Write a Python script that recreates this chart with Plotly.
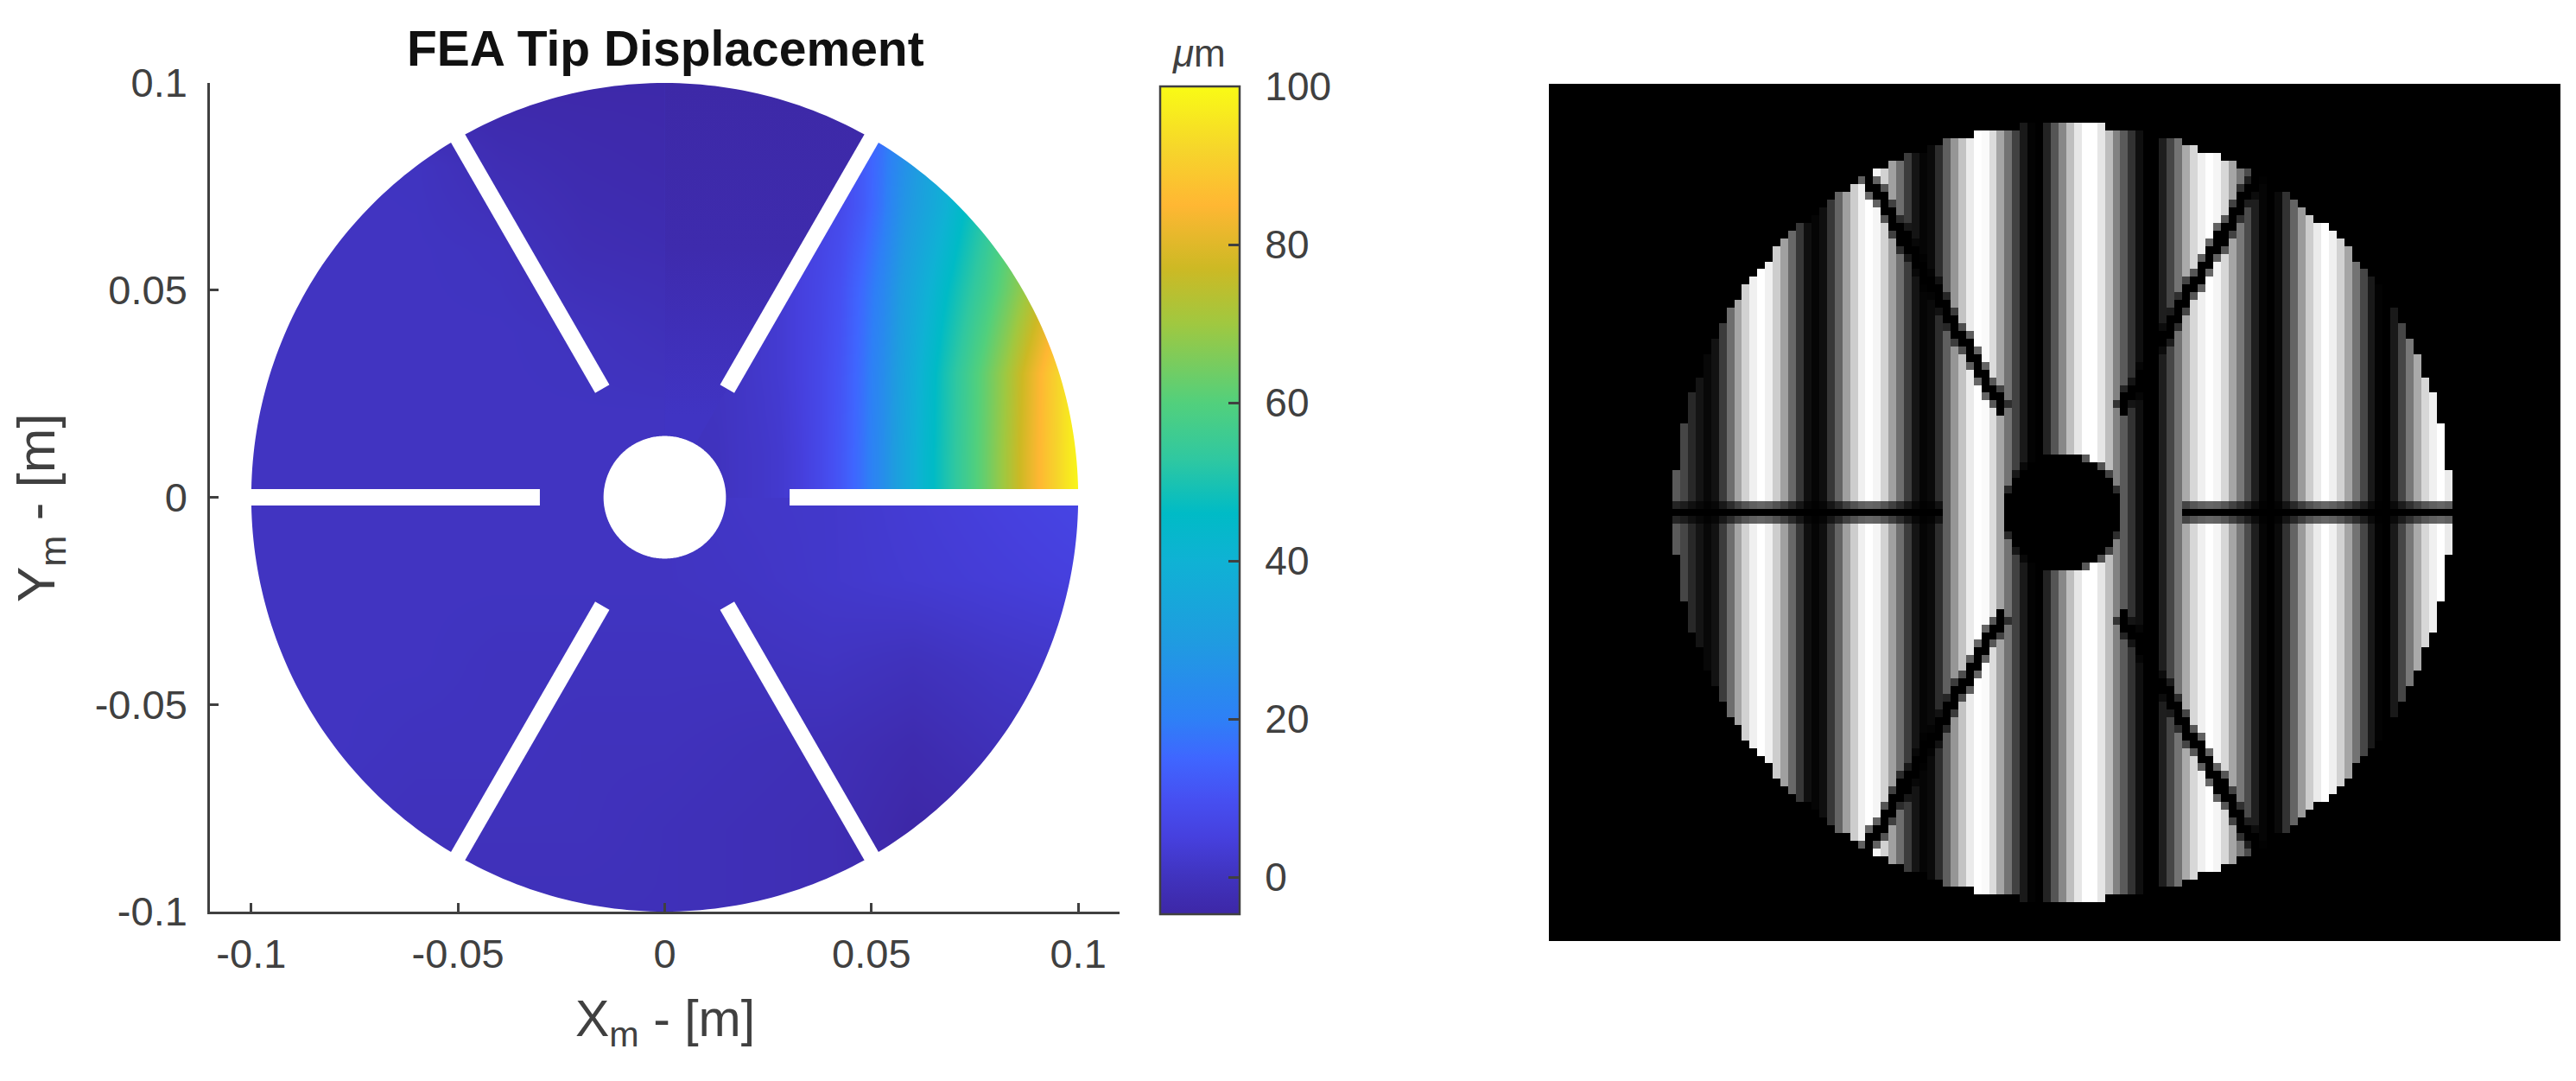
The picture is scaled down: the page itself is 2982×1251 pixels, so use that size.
import numpy as np
import plotly.graph_objects as go

# the page sits 8px in from the window edge
PAGE_PAD = 8
FIG_W, FIG_H = 2982 - 2 * PAGE_PAD, 1251 - 2 * PAGE_PAD
TEXT_COLOR = "#404040"
FONT = "Liberation Sans"

# colour bar (value in um -> colour)
scale_um = [-4.7, 0, 5, 10, 15, 20, 30, 40, 46, 53, 60, 70, 77, 85, 92, 100]
scale_colors = ["#3D27A6", "#4033BE", "#4640DE", "#4650F2", "#3F66FF", "#2E80F6", "#1F9CE0",
                "#0FB2D4", "#00BBC6", "#30C8A0", "#52D07C", "#A0C840", "#CDB924", "#FFB733",
                "#F6D52B", "#F9FB15"]
cbar_step = 20

# left panel ticks
axis_ticks = [-0.1, -0.05, 0, 0.05, 0.1]
axis_labels = ["-0.1", "-0.05", "0", "0.05", "0.1"]

# displacement of the pulled segment (um), cell edges in metres
seg_x_edges = [0.0, 0.005, 0.01, 0.015, 0.02, 0.025, 0.03, 0.035, 0.04, 0.045, 0.05, 0.055, 0.06,
               0.065, 0.07, 0.075, 0.08, 0.085, 0.09, 0.095, 0.1, 0.105]
seg_y_edges = [0.0, 0.02, 0.04, 0.06, 0.08, 0.1]
seg_um = [
    [0, 0, 0, 1, 1.5, 2.5, 4.5, 7.5, 11.5, 17, 24.5, 34, 42.5, 49.5, 56, 63, 71, 80, 88.5, 96, 102],
    [0, 0, 0.5, 1, 2, 3, 5, 7.5, 11, 16.5, 24, 33, 41.5, 49, 55.5, 62.5, 70, 79, 88, 96, 102],
    [0, 0, 0.5, 1, 2, 3, 5, 7, 10, 15.5, 22, 31, 38, 45, 51, 56.5, 63, 70, 78, 86, 94],
    [0, 0, 0.5, 1, 2, 3, 5, 6, 8, 12, 18, 27, 33, 39, 46, 52, 59, 66, 73, 80, 87],
    [0, 0, 0.5, 1, 2, 3, 5, 6, 8, 12, 17, 24, 31, 37, 43, 49, 56, 63, 70, 77, 84],
]

# the other five segments (um), cell centres in metres
disc_x = [-0.1, -0.08, -0.06, -0.04, -0.02, 0, 0.02, 0.04, 0.06, 0.08, 0.1]
disc_y = [-0.1, -0.08, -0.06, -0.04, -0.02, 0, 0.02, 0.04, 0.06, 0.08, 0.1]
disc_um = [
    [-1, -1, -1, -1, -1, -1, -1.5, -2, -3, -3, -3],
    [0, 0, -0.5, -0.5, -0.5, -1, -1.5, -2, -4.5, -3.5, -2],
    [0.5, 0.5, 0, 0, -0.5, -0.5, -1, -1.5, -3, -1, 0],
    [0.5, 0.5, 0.5, 0, 0, 0, 0, 0.5, -0.5, 1, 2],
    [0.5, 0.5, 0.5, 0.5, 0.5, 0.5, 1, 2, 3, 4, 5],
    [0.5, 0.5, 0.5, 0.5, 0.5, 0.5, 1.5, 2, 3.5, 5, 6.5],
    [0.5, 0.5, 0.5, 0.5, 0.5, 0.5, 0.5, 0.5, 0.5, 0.5, 0.5],
    [0.5, 0.5, 0.5, 0.5, 0, -1, -1, 0, 0, 0, 0],
    [0.5, 0.5, 0.5, 0, -2, -2.5, -3, 0, 0, 0, 0],
    [0.5, 0.5, 0.3, -2, -3, -3.5, -3.5, 0, 0, 0, 0],
    [-4, -4, -4, -4, -4, -4, -4, -4, -4, -4, -4],
]

# top segment right of x=0, same values as disc_um there (y fraction from y=0 up)
top_stops = [[0.0, "#4034C3"], [0.2, "#4034C3"], [0.4, "#3F2FB8"], [0.6, "#3E2BAD"], [1.0, "#3D29A7"]]

# mirror geometry, metres / degrees
slot_angles = [0, 60, 120, 180, 240, 300]
slot_inner = 0.0302
outer_radius = 0.1
hole_radius = 0.0148

# fringe image: grey level of each pixel column, from column 16 on
fringe_first_col = 16
fringe_levels = [
    90, 70, 40, 20, 8, 18, 60, 110, 165, 210, 240, 255, 240, 205, 160, 105, 55, 15, 5, 15,
    55, 100, 160, 205, 240, 255, 245, 210, 160, 110, 60, 20, 5, 10, 45, 95, 150, 195, 235, 255,
    250, 220, 165, 115, 65, 25, 3, 0, 35, 85, 135, 190, 230, 255, 255, 230, 190, 130, 90, 50,
    15, 0, 0, 30, 70, 115, 170, 215, 240, 255, 245, 215, 165, 120, 75, 30, 5, 0, 10, 50,
    100, 155, 205, 235, 255, 240, 210, 165, 115, 70, 25, 3, 0, 25, 70, 120, 170, 215, 240, 255, 235,
]
FRINGE_COLS, FRINGE_ROWS = 131, 111
FRINGE_CX, FRINGE_CY = 66, 55
FRINGE_R, FRINGE_HOLE, FRINGE_SLOT_IN = 50.3, 7.5, 15.2


def xfrac(px):
    return (px - PAGE_PAD) / FIG_W


def yfrac(py):
    return 1 - (py - PAGE_PAD) / FIG_H


def fringe_image():
    z = np.zeros((FRINGE_ROWS, FRINGE_COLS))
    first = fringe_first_col
    z[:, first:first + len(fringe_levels)] = fringe_levels
    cols, rows = np.meshgrid(np.arange(FRINGE_COLS), np.arange(FRINGE_ROWS))
    dx, dy = cols - FRINGE_CX, FRINGE_CY - rows
    r = np.hypot(dx, dy)
    z[(r > FRINGE_R) | (r < FRINGE_HOLE)] = 0
    z[(r >= FRINGE_HOLE) & (r < FRINGE_HOLE + 0.5)] *= 0.35
    for deg in slot_angles:
        t = np.radians(deg)
        along = dx * np.cos(t) + dy * np.sin(t)
        perp = np.abs(-dx * np.sin(t) + dy * np.cos(t))
        in_slot = (along > FRINGE_SLOT_IN) & (r <= FRINGE_R)
        z[in_slot & (perp < 1.2)] *= 0.4
        z[in_slot & (perp < 0.7)] = 0
    return z


pts = np.radians(np.arange(0, 361, 1))
ring_x = outer_radius * np.cos(pts)
ring_y = outer_radius * np.sin(pts)

# white page corners outside the disc: rectangle one way round, circle the other
mask_x = [-0.11, 0.11, 0.11, -0.11, -0.11, None] + list(ring_x[::-1])
mask_y = [-0.1, -0.1, 0.1, 0.1, -0.1, None] + list(ring_y[::-1])

slot_x, slot_y = [], []
for deg in slot_angles:
    t = np.radians(deg)
    slot_x += [slot_inner * np.cos(t), 0.104 * np.cos(t), None]
    slot_y += [slot_inner * np.sin(t), 0.104 * np.sin(t), None]

top_x = [0, 0.105 / np.tan(np.radians(60)), 0, 0]
top_y = [0, 0.105, 0.105, 0]

lo, hi = scale_um[0], scale_um[-1]
colorscale = [[(v - lo) / (hi - lo), c] for v, c in zip(scale_um, scale_colors)]

fig = go.Figure()
fig.add_trace(go.Heatmap(x=disc_x, y=disc_y, z=disc_um, coloraxis="coloraxis", zsmooth="best",
                         hoverinfo="skip"))
fig.add_trace(go.Heatmap(x=seg_x_edges, y=seg_y_edges, z=seg_um, coloraxis="coloraxis", zsmooth="best",
                         hoverinfo="skip"))
fig.add_trace(go.Scatter(x=top_x, y=top_y, mode="none", fill="toself", hoverinfo="skip",
                         fillgradient=dict(type="vertical", colorscale=top_stops, start=0, stop=0.1)))
fig.add_trace(go.Scatter(x=slot_x, y=slot_y, mode="lines", line=dict(color="white", width=19),
                         hoverinfo="skip"))
fig.add_trace(go.Scatter(x=hole_radius * np.cos(pts), y=hole_radius * np.sin(pts), mode="none",
                         fill="toself", fillcolor="white", hoverinfo="skip"))
fig.add_trace(go.Scatter(x=mask_x, y=mask_y, mode="none", fill="toself", fillcolor="white",
                         hoverinfo="skip"))
fig.add_trace(go.Heatmap(z=fringe_image(), xaxis="x2", yaxis="y2", showscale=False, zmin=0, zmax=255,
                         colorscale=[[0, "#000000"], [1, "#ffffff"]], hoverinfo="skip"))

tick_style = dict(
    tickmode="array", tickvals=axis_ticks, ticktext=axis_labels, ticks="inside", ticklen=10, tickwidth=2.5,
    tickcolor=TEXT_COLOR, showline=True, linecolor=TEXT_COLOR, linewidth=2.5, showgrid=False, zeroline=False,
    tickfont=dict(family=FONT, size=47, color=TEXT_COLOR),
)

cbar = dict(
    x=xfrac(1343), xanchor="left", xpad=0, y=yfrac(1058), yanchor="bottom", ypad=0,
    len=(1058 - 100) / FIG_H, lenmode="fraction", thickness=92, thicknessmode="pixels",
    outlinecolor=TEXT_COLOR, outlinewidth=2.5, tickmode="linear", tick0=0, dtick=cbar_step, ticks="inside",
    ticklen=14, tickwidth=2.5, tickcolor=TEXT_COLOR, tickprefix="\u2009\u2009",
    tickfont=dict(family=FONT, size=46, color=TEXT_COLOR),
)

text = dict(xref="paper", yref="paper", showarrow=False, xanchor="center", yanchor="middle")
annotations = [
    dict(text="<b>FEA Tip Displacement</b>", x=xfrac(770), y=yfrac(56),
         font=dict(family=FONT, size=57, color="#111111"), **text),
    dict(text="X<sub>m</sub> - [m]", x=xfrac(770), y=yfrac(1183),
         font=dict(family=FONT, size=59, color=TEXT_COLOR), **text),
    dict(text="Y<sub>m</sub> - [m]", x=xfrac(46), y=yfrac(588), textangle=-90,
         font=dict(family=FONT, size=62, color=TEXT_COLOR), **text),
    dict(text="<i>μ</i>m", x=xfrac(1388), y=yfrac(62),
         font=dict(family=FONT, size=44, color=TEXT_COLOR), **text),
]

fig.update_layout(
    width=FIG_W, height=FIG_H, margin=dict(l=0, r=0, t=0, b=0, autoexpand=False),
    paper_bgcolor="white", plot_bgcolor="white", showlegend=False, annotations=annotations,
    coloraxis=dict(colorscale=colorscale, cmin=lo, cmax=hi, colorbar=cbar),
    xaxis=dict(domain=[xfrac(243), xfrac(1296)], range=[-0.11, 0.11], ticklabelstandoff=6, **tick_style),
    yaxis=dict(domain=[yfrac(1055), yfrac(96)], range=[-0.1, 0.1], ticklabelstandoff=14, **tick_style),
    xaxis2=dict(domain=[xfrac(1793), xfrac(2964)], range=[-0.5, FRINGE_COLS - 0.5], visible=False),
    yaxis2=dict(domain=[yfrac(1089), yfrac(97)], range=[FRINGE_ROWS - 0.5, -0.5], visible=False),
)

fig.write_html("out.html")
